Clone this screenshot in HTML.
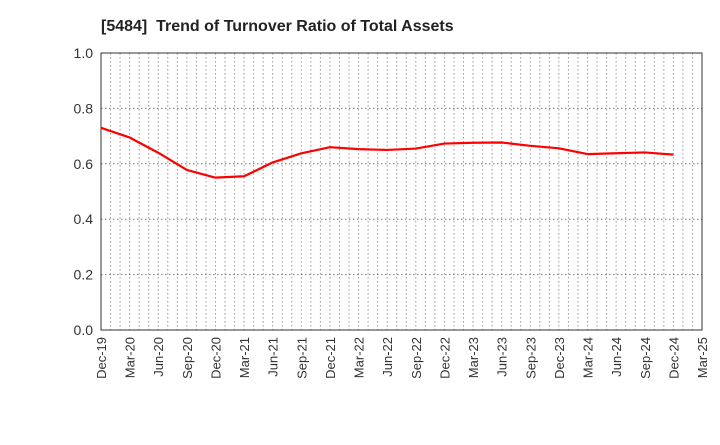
<!DOCTYPE html>
<html><head><meta charset="utf-8"><style>
body{margin:0;background:#fff;font-family:"Liberation Sans",sans-serif;}
</style></head><body>
<svg id="chart" width="720" height="440" xmlns="http://www.w3.org/2000/svg" font-family="Liberation Sans, sans-serif">
<text x="101" y="31" font-size="16" font-weight="bold" fill="#222" xml:space="preserve" style="white-space:pre">[5484]  Trend of Turnover Ratio of Total Assets</text>
<g id="grid"></g><g id="axes"></g><g id="series"></g>
</svg>
<script>
const xLabels=["Dec-19","Mar-20","Jun-20","Sep-20","Dec-20","Mar-21","Jun-21","Sep-21","Dec-21","Mar-22","Jun-22","Sep-22","Dec-22","Mar-23","Jun-23","Sep-23","Dec-23","Mar-24","Jun-24","Sep-24","Dec-24","Mar-25"];
const yTicks=[0,0.2,0.4,0.6,0.8,1.0];
const values=[0.73,0.695,0.64,0.578,0.55,0.555,0.605,0.638,0.66,0.653,0.65,0.655,0.673,0.676,0.677,0.665,0.656,0.635,0.638,0.641,0.633];
const L=101,R=702,T=53,B=330,NS="http://www.w3.org/2000/svg";
const months=(xLabels.length-1)*3;
const xm=m=>L+(R-L)*m/months;
const xq=i=>xm(i*3);
const y=v=>B-(B-T)*v/1.0;
function mk(tag,attrs,parent){const e=document.createElementNS(NS,tag);for(const k in attrs)e.setAttribute(k,attrs[k]);parent.appendChild(e);return e;}
const grid=document.getElementById('grid'),axes=document.getElementById('axes'),series=document.getElementById('series');
for(let m=1;m<months;m++){const l=mk('line',{x1:xm(m),x2:xm(m),y1:T,y2:B,stroke:'#999','stroke-dasharray':'1.5,2.5','stroke-width':1},grid);

}
yTicks.forEach(v=>{if(v>0&&v<1){const l=mk('line',{x1:L,x2:R,y1:y(v),y2:y(v),stroke:'#777','stroke-dasharray':'1.5,2.5','stroke-width':1},grid);

}
const t=mk('text',{x:L-8,y:y(v)+5,'font-size':14,'text-anchor':'end',fill:'#333'},axes);t.textContent=v.toFixed(1);

});
const box=mk('rect',{x:L,y:T,width:R-L,height:B-T,fill:'none',stroke:'#333','stroke-width':1},axes);


xLabels.forEach((s,i)=>{const x=xq(i);const t=mk('text',{x:0,y:0,'font-size':13,'text-anchor':'end',fill:'#333',transform:`translate(${x+5},${B+7}) rotate(-90)`},axes);t.textContent=s;

});
const p=mk('polyline',{points:values.map((v,i)=>xq(i)+','+y(v)).join(' '),fill:'none',stroke:'#f00','stroke-width':2.2,'stroke-linejoin':'round'},series);


</script>
</body></html>
